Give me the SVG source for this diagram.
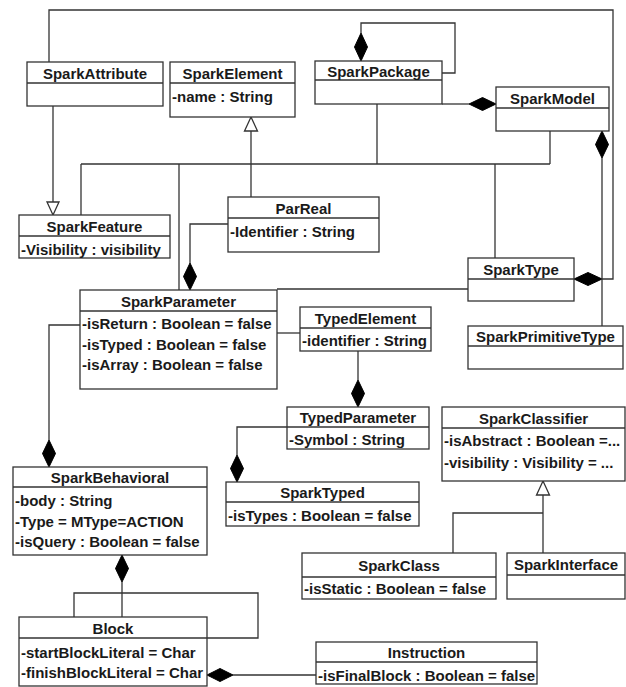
<svg xmlns="http://www.w3.org/2000/svg" width="626" height="687" viewBox="0 0 626 687">
  <style>
    .box { fill: #ffffff; stroke: #333333; stroke-width: 1.3; }
    .sep { stroke: #333333; stroke-width: 1.3; }
    text { font-family: "Liberation Sans", Arial, sans-serif; font-weight: bold; font-size: 15px; fill: #1a1a1a; }
    .h { text-anchor: middle; }
    .ln { fill: none; stroke: #333333; stroke-width: 1.3; }
    .dm { fill: #000000; stroke: #000000; stroke-width: 1; }
    .tri { fill: #ffffff; stroke: #333333; stroke-width: 1.3; }
  </style>
  <rect x="0" y="0" width="626" height="687" fill="#ffffff"/>

  <!-- connectors -->
  <g id="connectors">
    <!-- SparkAttribute around the top to SparkType -->
    <polyline class="ln" points="49,62 49,10 613,10 613,279 602,279"/>
    <polygon class="dm" points="574,279 588,272.5 602,279 588,285.5"/>
    <!-- SparkModel to SparkPrimitiveType -->
    <polygon class="dm" points="602,131 608.5,144.5 602,158 595.5,144.5"/>
    <line class="ln" x1="602" y1="158" x2="602" y2="326"/>
    <!-- SparkAttribute to SparkFeature -->
    <line class="ln" x1="53" y1="106" x2="53" y2="202"/>
    <polygon class="tri" points="47,202 59,202 53,215"/>
    <!-- generalization trunk into SparkElement -->
    <polygon class="tri" points="251,117 257.5,131 244.5,131"/>
    <line class="ln" x1="251" y1="131" x2="251" y2="197"/>
    <line class="ln" x1="81" y1="164" x2="550" y2="164"/>
    <line class="ln" x1="81" y1="164" x2="81" y2="215"/>
    <line class="ln" x1="179" y1="164" x2="179" y2="290"/>
    <line class="ln" x1="377" y1="104" x2="377" y2="164"/>
    <line class="ln" x1="550" y1="131" x2="550" y2="164"/>
    <line class="ln" x1="495" y1="164" x2="495" y2="258"/>
    <!-- SparkPackage self composition -->
    <polyline class="ln" points="361,33 361,23 455,23 455,73 442,73"/>
    <polygon class="dm" points="361,33 367.5,47 361,61 354.5,47"/>
    <!-- SparkPackage to SparkModel -->
    <line class="ln" x1="442" y1="104" x2="469" y2="104"/>
    <polygon class="dm" points="469,104 482.5,97.5 496,104 482.5,110.5"/>
    <!-- ParReal to SparkParameter -->
    <polyline class="ln" points="228,224 190,224 190,263"/>
    <polygon class="dm" points="190,263 196.5,276.5 190,290 183.5,276.5"/>
    <!-- SparkParameter to SparkType -->
    <line class="ln" x1="277" y1="289" x2="468" y2="289"/>
    <!-- SparkParameter to TypedElement -->
    <line class="ln" x1="277" y1="333" x2="300" y2="333"/>
    <!-- TypedElement to TypedParameter -->
    <line class="ln" x1="358" y1="351" x2="358" y2="380"/>
    <polygon class="dm" points="358,380 364.5,393.5 358,407 351.5,393.5"/>
    <!-- TypedParameter to SparkTyped -->
    <polyline class="ln" points="287,427 237,427 237,455"/>
    <polygon class="dm" points="237,455 243.5,468.5 237,482 230.5,468.5"/>
    <!-- SparkParameter to SparkBehavioral -->
    <polyline class="ln" points="80,325 49,325 49,440"/>
    <polygon class="dm" points="49,440 55.5,453.5 49,467 42.5,453.5"/>
    <!-- SparkClassifier specializations -->
    <polygon class="tri" points="543,481 549.5,495 536.5,495"/>
    <line class="ln" x1="543" y1="495" x2="543" y2="553"/>
    <polyline class="ln" points="543,513 453,513 453,553"/>
    <!-- SparkBehavioral to Block -->
    <polygon class="dm" points="122,555 128.5,568.5 122,582 115.5,568.5"/>
    <line class="ln" x1="122" y1="582" x2="122" y2="617"/>
    <!-- Block self association -->
    <polyline class="ln" points="74,617 74,593 258,593 258,638 207,638"/>
    <!-- Instruction to Block -->
    <polygon class="dm" points="207,675 220,668.5 233,675 220,681.5"/>
    <line class="ln" x1="233" y1="675" x2="316" y2="675"/>
  </g>

  <!-- classes -->
  <g id="SparkAttribute">
    <rect class="box" x="27" y="62" width="136" height="44"/>
    <line class="sep" x1="27" y1="83" x2="163" y2="83"/>
    <text class="h" x="95" y="78.5">SparkAttribute</text>
  </g>
  <g id="SparkElement">
    <rect class="box" x="170" y="62" width="125" height="55"/>
    <line class="sep" x1="170" y1="83" x2="295" y2="83"/>
    <text class="h" x="232.5" y="78.5">SparkElement</text>
    <text x="172" y="101.5">-name : String</text>
  </g>
  <g id="SparkPackage">
    <rect class="box" x="315" y="61" width="127" height="43"/>
    <line class="sep" x1="315" y1="80" x2="442" y2="80"/>
    <text class="h" x="378.5" y="76.5">SparkPackage</text>
  </g>
  <g id="SparkModel">
    <rect class="box" x="496" y="87" width="113" height="44"/>
    <line class="sep" x1="496" y1="108" x2="609" y2="108"/>
    <text class="h" x="552.5" y="103.5">SparkModel</text>
  </g>
  <g id="SparkFeature">
    <rect class="box" x="19" y="215" width="151" height="43"/>
    <line class="sep" x1="19" y1="236" x2="170" y2="236"/>
    <text class="h" x="94.5" y="231.5">SparkFeature</text>
    <text x="21" y="254.5">-Visibility : visibility</text>
  </g>
  <g id="ParReal">
    <rect class="box" x="228" y="197" width="151" height="55"/>
    <line class="sep" x1="228" y1="218" x2="379" y2="218"/>
    <text class="h" x="303.5" y="213.5">ParReal</text>
    <text x="230" y="236.5">-Identifier : String</text>
  </g>
  <g id="SparkType">
    <rect class="box" x="468" y="258" width="106" height="43"/>
    <line class="sep" x1="468" y1="279" x2="574" y2="279"/>
    <text class="h" x="521" y="274.5">SparkType</text>
  </g>
  <g id="SparkParameter">
    <rect class="box" x="80" y="290" width="197" height="99"/>
    <line class="sep" x1="80" y1="311" x2="277" y2="311"/>
    <text class="h" x="178.5" y="306.5">SparkParameter</text>
    <text x="82" y="329">-isReturn : Boolean = false</text>
    <text x="82" y="349.5">-isTyped : Boolean = false</text>
    <text x="82" y="370">-isArray : Boolean = false</text>
  </g>
  <g id="TypedElement">
    <rect class="box" x="300" y="307" width="131" height="44"/>
    <line class="sep" x1="300" y1="328" x2="431" y2="328"/>
    <text class="h" x="365.5" y="323.5">TypedElement</text>
    <text x="302" y="346">-identifier : String</text>
  </g>
  <g id="SparkPrimitiveType">
    <rect class="box" x="468" y="326" width="155" height="43"/>
    <line class="sep" x1="468" y1="346" x2="623" y2="346"/>
    <text class="h" x="545.5" y="341.5">SparkPrimitiveType</text>
  </g>
  <g id="TypedParameter">
    <rect class="box" x="287" y="407" width="142" height="42"/>
    <line class="sep" x1="287" y1="427" x2="429" y2="427"/>
    <text class="h" x="358" y="422.5">TypedParameter</text>
    <text x="289" y="445">-Symbol : String</text>
  </g>
  <g id="SparkClassifier">
    <rect class="box" x="442" y="407" width="183" height="74"/>
    <line class="sep" x1="442" y1="428" x2="625" y2="428"/>
    <text class="h" x="533.5" y="423.5">SparkClassifier</text>
    <text x="444" y="446">-isAbstract : Boolean =...</text>
    <text x="444" y="467.5">-visibility : Visibility = ...</text>
  </g>
  <g id="SparkBehavioral">
    <rect class="box" x="13" y="467" width="194" height="88"/>
    <line class="sep" x1="13" y1="487" x2="207" y2="487"/>
    <text class="h" x="110" y="482.5">SparkBehavioral</text>
    <text x="15" y="505.5">-body : String</text>
    <text x="15" y="526.5">-Type = MType=ACTION</text>
    <text x="15" y="547">-isQuery : Boolean = false</text>
  </g>
  <g id="SparkTyped">
    <rect class="box" x="226" y="482" width="193" height="44"/>
    <line class="sep" x1="226" y1="502" x2="419" y2="502"/>
    <text class="h" x="322.5" y="498">SparkTyped</text>
    <text x="228" y="520.5">-isTypes : Boolean = false</text>
  </g>
  <g id="SparkClass">
    <rect class="box" x="302" y="553" width="194" height="46"/>
    <line class="sep" x1="302" y1="577" x2="496" y2="577"/>
    <text class="h" x="399" y="570.5">SparkClass</text>
    <text x="304" y="594">-isStatic : Boolean = false</text>
  </g>
  <g id="SparkInterface">
    <rect class="box" x="507" y="553" width="118" height="46"/>
    <line class="sep" x1="507" y1="575" x2="625" y2="575"/>
    <text class="h" x="566" y="569.5">SparkInterface</text>
  </g>
  <g id="Block">
    <rect class="box" x="19" y="617" width="188" height="69"/>
    <line class="sep" x1="19" y1="638" x2="207" y2="638"/>
    <text class="h" x="113" y="633.5">Block</text>
    <text x="21" y="657.5">-startBlockLiteral = Char</text>
    <text x="21" y="678">-finishBlockLiteral = Char</text>
  </g>
  <g id="Instruction">
    <rect class="box" x="316" y="642" width="221" height="42"/>
    <line class="sep" x1="316" y1="662" x2="537" y2="662"/>
    <text class="h" x="426.5" y="657.5">Instruction</text>
    <text x="318" y="680.5">-isFinalBlock : Boolean = false</text>
  </g>
</svg>
